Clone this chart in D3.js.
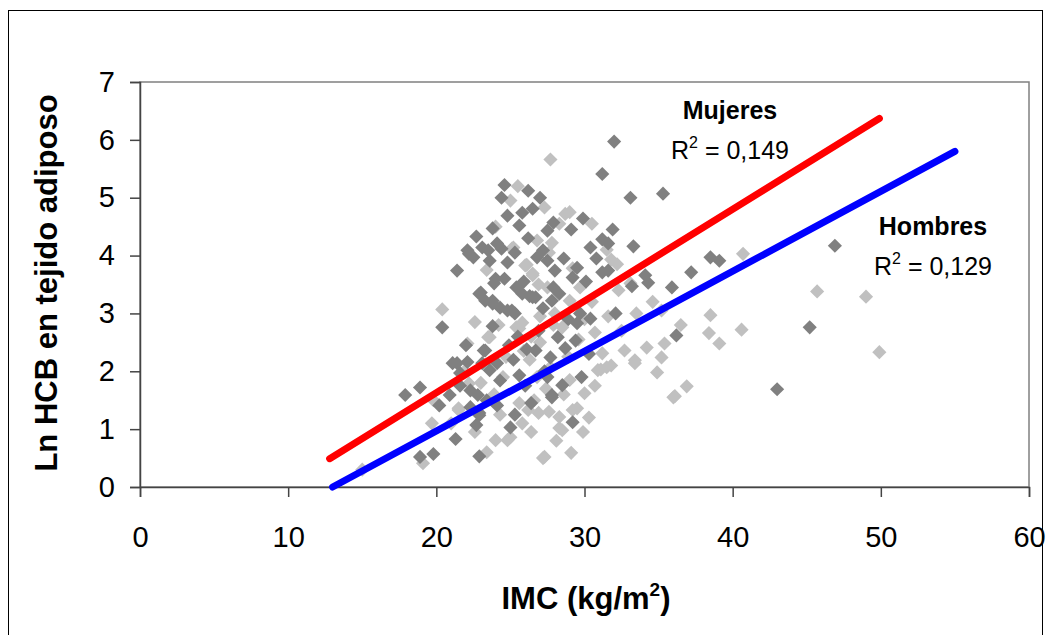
<!DOCTYPE html>
<html>
<head>
<meta charset="utf-8">
<script src="https://cdn.jsdelivr.net/npm/d3@7"></script>
<style>
  body { margin: 0; background: #fff; }
  text { font-family: "Liberation Sans", Arial, sans-serif; }
</style>
</head>
<body>
<div id="container"></div>
<script>
let w = 1056;
let h = 635;

// plot area
let plotLeft = 140, plotRight = 1029, plotTop = 82, plotBottom = 487;

let xTicks = [0, 10, 20, 30, 40, 50, 60];
let yTicks = [0, 1, 2, 3, 4, 5, 6, 7];

// IMC, Ln HCB  (dark markers)
let mujeres = [
  [24.6,5.22],[26.2,5.12],[24.4,5.0],[24.8,4.69],[25.8,4.74],[25.6,4.52],[26.5,4.81],[22.7,4.33],
  [23.8,4.47],[22.1,4.09],[22.5,3.97],[23.1,4.14],[23.5,4.09],[24.1,4.21],[24.4,4.12],[23.6,3.91],
  [24.8,3.88],[21.4,3.74],[24.0,3.60],[22.9,3.34],[23.3,3.22],[25.4,3.45],[25.8,3.34],[26.5,3.28],
  [23.8,3.17],[24.3,3.10],[24.8,3.05],[25.3,3.0],[20.4,2.76],[23.8,2.78],[26.1,2.38],[21.1,2.14],
  [22.1,2.16],[23.3,2.36],[23.1,2.14],[24.1,2.14],[21.6,1.97],[23.6,2.02],[24.3,1.84],[17.9,1.59],
  [18.9,1.72],[20.2,1.41],[20.9,1.59],[22.3,1.67],[22.8,1.59],[23.4,1.5],[22.3,1.38],[24.1,1.41],
  [22.9,1.28],[22.7,1.07],[25.0,1.03],[21.3,0.83],[18.9,0.52],[19.8,0.57],[22.9,0.53],
  [31.2,5.41],[33.1,5.0],[35.3,5.07],[27.0,5.0],[29.9,4.64],[27.9,4.57],[27.5,4.43],[31.9,4.45],
  [31.2,4.28],[31.6,4.21],[30.4,4.14],[33.3,4.16],[27.2,4.09],[26.8,3.97],[27.5,3.91],[30.8,3.95],
  [29.5,3.79],[28.0,3.74],[31.2,3.71],[31.6,3.74],[34.1,3.66],[34.3,3.53],[33.2,3.47],[35.9,3.45],
  [29.2,3.62],[27.9,3.45],[28.3,3.34],[27.8,3.22],[26.7,3.28],[27.2,3.09],[32.1,3.0],[29.7,3.0],
  [30.4,2.91],[29.5,2.83],[28.2,2.59],[29.4,2.53],[28.7,2.40],[27.7,2.24],[36.2,2.62],[28.5,1.76],
  [27.8,1.55],[29.2,1.12],[26.7,2.36],[32.0,5.97],
  [37.2,3.71],[38.5,3.97],[39.1,3.91],[46.9,4.17],[45.2,2.76],[43.0,1.69],
  [22.2,4.03],[23.9,3.52],[23.0,3.36],[23.8,3.22],[25.1,3.05],[26.3,3.3],[21.4,2.14],[23.2,2.36],
  [22.9,1.24],[25.6,1.93],[27.8,1.59],
  [25.5,2.6],[26.9,2.7],[25.2,2.2],[27.3,2.0],[26.0,1.75],[24.9,2.45],[26.4,1.45],[28.9,2.9],
  [30.1,3.55],[28.6,3.95],[29.1,4.45],[26.2,4.3],[25.3,4.05],[24.6,3.6],[25.9,3.55],[22.0,2.45],
  [21.6,1.75],[25.3,1.25],[27.5,1.9],[29.8,1.9],[30.3,2.3]
];

// IMC, Ln HCB  (light markers)
let hombres = [
  [25.5,5.2],[25.0,4.95],[25.1,4.12],[26.0,3.83],[26.5,3.69],[20.4,3.07],[22.1,2.48],[23.5,2.59],
  [25.4,2.76],[25.8,2.84],[19.7,1.10],[21.5,1.33],[23.4,0.60],[25.0,0.86],[25.6,1.45],[19.1,0.41],
  [15.0,0.3],
  [27.7,5.66],[28.7,4.72],[27.3,4.83],[26.8,4.26],[27.8,4.22],[31.8,3.93],[26.5,3.66],[29.2,3.78],
  [29.7,3.45],[27.5,3.45],[29.0,3.22],[33.1,3.52],[33.5,3.0],[30.7,2.67],[28.5,2.76],[32.7,2.36],
  [33.4,2.19],[34.2,2.41],[35.2,2.24],[35.4,2.48],[31.2,2.31],[31.8,2.10],[30.9,2.02],[34.9,1.98],
  [36.0,1.55],[30.0,1.62],[29.5,1.36],[26.9,1.28],[28.3,1.21],[28.5,0.98],[29.9,0.95],[27.3,0.52],
  [29.1,0.59],[27.7,2.07],[26.6,1.5],
  [40.7,4.03],[45.7,3.38],[49.0,3.29],[38.5,2.97],[38.4,2.66],[39.1,2.48],[40.6,2.72],[49.9,2.33],
  [31.5,2.07],[31.1,2.03],[33.4,2.14],[36.9,1.74],[36.1,1.57],[29.2,1.33],[28.3,1.02],
  [25.2,4.14],[26.1,3.84],[25.6,2.74],[23.6,2.59],
  [22.2,1.79],[21.5,1.36],[24.0,0.81],[24.8,0.81],[26.2,1.33],[27.2,0.5],
  [24.5,1.9],[26.3,2.2],[27.0,2.5],[25.8,1.1],[27.6,1.3],[28.6,1.6],[26.8,1.9],[24.2,2.8],
  [29.6,2.55],[30.5,3.2],[31.6,2.95],[32.3,3.4],[28.0,3.0],[27.0,2.95],[26.4,2.6],[23.0,1.8],
  [24.3,1.25],[22.6,0.95],[21.0,1.1],[29.0,1.85],[30.3,1.2],[32.2,3.85],[34.6,3.2],[35.2,3.05],
  [36.5,2.8],[31.5,4.1],[28.3,4.55],[27.6,4.05],[24.0,4.5],[23.4,3.75],[22.6,2.85],[19.8,1.5],
  [21.9,2.0],[30.5,4.55],[29.0,4.75],
  [25.9,2.35],[27.4,1.7],[28.9,2.25],[26.9,3.5],[24.7,2.25],[30.7,1.75],[28.1,0.8],[26.4,0.95],
  [32.5,2.7],[23.9,1.6],[27.9,2.8],[30.0,2.9]
];

// trend line end points, as drawn
let mujeresFit = [[12.8, 0.49], [49.9, 6.37]];
let hombresFit = [[13.0, 0.0], [55.0, 5.8]];

let viz = d3.select("#container")
  .append("svg")
  .attr("width", w)
  .attr("height", h)
  .style("background-color", "white");

// outer frame
viz.append("rect")
  .attr("x", 8.5)
  .attr("y", 10.5)
  .attr("width", 1034)
  .attr("height", 640)
  .attr("fill", "none")
  .attr("stroke", "#000")
  .attr("stroke-width", 1);

let xScale = d3.scaleLinear().domain([0, 60]).range([plotLeft, plotRight]);
let yScale = d3.scaleLinear().domain([0, 7]).range([plotBottom, plotTop]);

// plot area border
viz.append("rect")
  .attr("x", plotLeft)
  .attr("y", plotTop)
  .attr("width", plotRight - plotLeft)
  .attr("height", plotBottom - plotTop)
  .attr("fill", "white")
  .attr("stroke", "#808080")
  .attr("stroke-width", 1.5);

let xAxis = viz.append("g")
  .attr("transform", `translate(0, ${plotBottom})`)
  .call(d3.axisBottom(xScale).tickValues(xTicks).tickFormat(d3.format("d")).tickSize(10).tickPadding(29));

let yAxis = viz.append("g")
  .attr("transform", `translate(${plotLeft}, 0)`)
  .call(d3.axisLeft(yScale).tickValues(yTicks).tickFormat(d3.format("d")).tickSize(10).tickPadding(15));

[xAxis, yAxis].forEach(ax => {
  ax.selectAll("path, line").attr("stroke", "#444").attr("stroke-width", 1.5);
  ax.selectAll("text")
    .attr("font-size", "29px")
    .attr("font-family", "Liberation Sans, Arial, sans-serif")
    .attr("fill", "#000");
});

let diamond = d3.symbol().type(d3.symbolSquare).size(100);

function drawPoints(data, color) {
  viz.append("g")
    .selectAll("path")
    .data(data)
    .enter()
    .append("path")
    .attr("d", diamond)
    .attr("transform", d => `translate(${xScale(d[0])}, ${yScale(d[1])}) rotate(45)`)
    .attr("fill", color);
}

drawPoints(hombres, "#c0c0c0");
drawPoints(mujeres, "#808080");

let line = d3.line().x(d => xScale(d[0])).y(d => yScale(d[1]));

viz.append("path")
  .datum(mujeresFit)
  .attr("d", line)
  .attr("stroke", "#ff0000")
  .attr("stroke-width", 7)
  .attr("stroke-linecap", "round")
  .attr("fill", "none");

viz.append("path")
  .datum(hombresFit)
  .attr("d", line)
  .attr("stroke", "#0000ff")
  .attr("stroke-width", 7)
  .attr("stroke-linecap", "round")
  .attr("fill", "none");

// labels
function label(x, y, name, r2) {
  viz.append("text")
    .attr("x", x).attr("y", y)
    .attr("text-anchor", "middle")
    .attr("font-size", "25px")
    .attr("font-weight", "bold")
    .text(name);
  let t = viz.append("text")
    .attr("x", x).attr("y", y + 40)
    .attr("text-anchor", "middle")
    .attr("font-size", "25px");
  t.append("tspan").text("R");
  t.append("tspan").attr("font-size", "16px").attr("dy", -11).text("2");
  t.append("tspan").attr("dy", 11).text(" = " + r2);
}

label(730, 119, "Mujeres", "0,149");
label(933, 235, "Hombres", "0,129");

// axis titles
viz.append("text")
  .attr("transform", `translate(57, 283) rotate(-90)`)
  .attr("text-anchor", "middle")
  .attr("font-size", "31px")
  .attr("font-weight", "bold")
  .text("Ln HCB en tejido adiposo");

let xt = viz.append("text")
  .attr("x", 586)
  .attr("y", 609)
  .attr("text-anchor", "middle")
  .attr("font-size", "31px")
  .attr("font-weight", "bold");
xt.append("tspan").text("IMC (kg/m");
xt.append("tspan").attr("font-size", "19px").attr("dy", -13).text("2");
xt.append("tspan").attr("dy", 13).text(")");
</script>
</body>
</html>
